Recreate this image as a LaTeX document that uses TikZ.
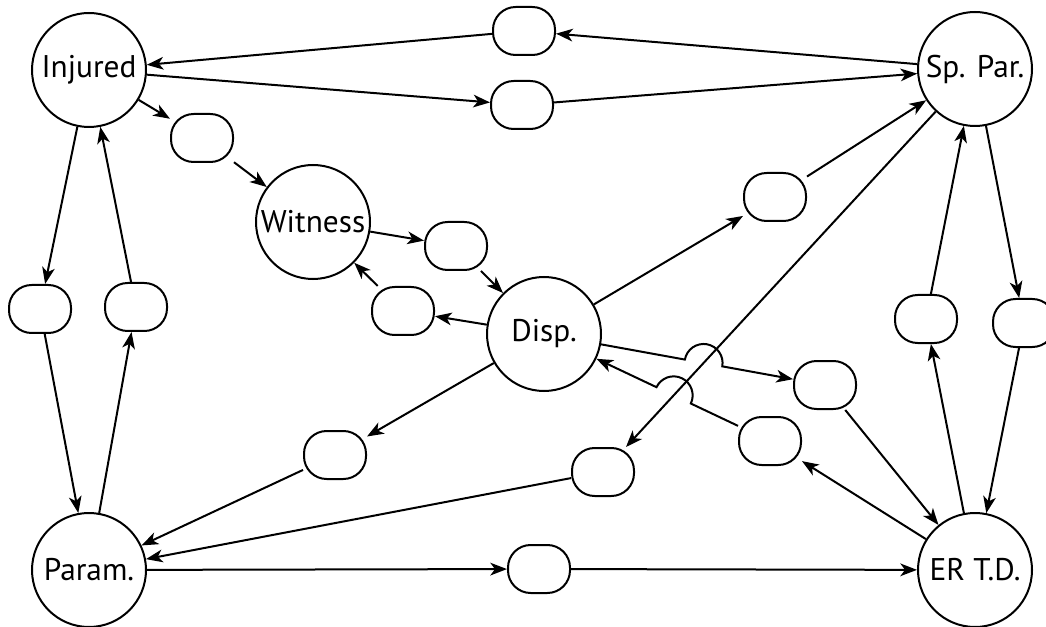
\documentclass[tikz,border=0pt]{standalone}
\usepackage{fontspec}
\setmainfont{PT Sans}
\usetikzlibrary{arrows.meta,calc,intersections}
\begin{document}
\begin{tikzpicture}[x=0.75pt,y=-0.75pt,
 bigc/.style={circle,draw,line width=1.5pt,minimum size=85.5pt,inner sep=0pt,font=\fontsize{23.5}{28}\selectfont},
 sbox/.style={draw,line width=1.5pt,rounded corners=17pt,minimum width=46.5pt,minimum height=36pt,inner sep=0pt},
 arr/.style={line width=1.5pt,-{Stealth[length=12.5pt,width=9.5pt,inset=3.5pt]}}]
\useasboundingbox (0,0) rectangle (1046,627);
% main nodes
\node[bigc] (inj) at (89,70) {Injured};
\node[bigc] (sp) at (975,69) {Sp. Par.};
\node[bigc] (wit) at (313,222) {Witness};
\node[bigc] (disp) at (544,334) {Disp.};
\node[bigc] (par) at (89,570) {Param.};
\node[bigc] (er) at (975,570) {ER T.D.};
% small boxes
\node[sbox] (b1) at (524,31) {};
\node[sbox] (b2) at (522,105) {};
\node[sbox] (b3) at (202,138) {};
\node[sbox] (b4) at (456,246) {};
\node[sbox] (b5) at (403,311) {};
\node[sbox] (b6) at (775,197) {};
\node[sbox] (bl1) at (40,309) {};
\node[sbox] (bl2) at (136,307) {};
\node[sbox] (br1) at (926,319) {};
\node[sbox] (br2) at (1024,323) {};
\node[sbox] (b9) at (825,385) {};
\node[sbox] (b10) at (770,441) {};
\node[sbox] (b11) at (335,455) {};
\node[sbox] (b12) at (603,472) {};
\node[sbox] (b13) at (539,569) {};
% connectors
\draw[arr] (sp) -- (b1);
\draw[arr] (b1) -- (inj);
\draw[arr] (inj) -- (b2);
\draw[arr] (b2) -- (sp);
\draw[arr] (inj) -- (b3);
\draw[arr] (b3) -- (wit);
\draw[arr] (wit) -- (b4);
\draw[arr] (b4) -- (disp);
\draw[arr] (disp) -- (b5);
\draw[arr] (b5) -- (wit);
\draw[arr] (disp) -- (b6);
\draw[arr] (b6) -- (sp);
\draw[arr] (inj) -- (bl1);
\draw[arr] (bl1) -- (par);
\draw[arr] (par) -- (bl2);
\draw[arr] (bl2) -- (inj);
\draw[arr] (sp) -- (br2);
\draw[arr] (br2) -- (er);
\draw[arr] (er) -- (br1);
\draw[arr] (br1) -- (sp);
\draw[arr,name path=cross] (sp) -- (b12);
\draw[arr] (b12) -- (par);
\draw[arr] (disp) -- (b11);
\draw[arr] (b11) -- (par);
\draw[arr] (par) -- (b13);
\draw[arr] (b13) -- (er);
\draw[arr] (b9) -- (er);
\draw[arr] (er) -- (b10);
% hopping connectors
\path[name path=p1] (disp.center) -- (b9.center);
\path[name intersections={of=cross and p1,by=X1}];
\draw[arr] (disp) -- ($(X1)!14.25pt!(disp)$) arc[start angle=169.71,end angle=-10.29,radius=14.25pt] -- (b9);
\path[name path=p2] (b10.center) -- (disp.center);
\path[name intersections={of=cross and p2,by=X2}];
\draw[arr] (b10) -- ($(X2)!14.25pt!(b10)$) arc[start angle=-25.43,end angle=154.57,radius=14.25pt] -- (disp);
\end{tikzpicture}
\end{document}
